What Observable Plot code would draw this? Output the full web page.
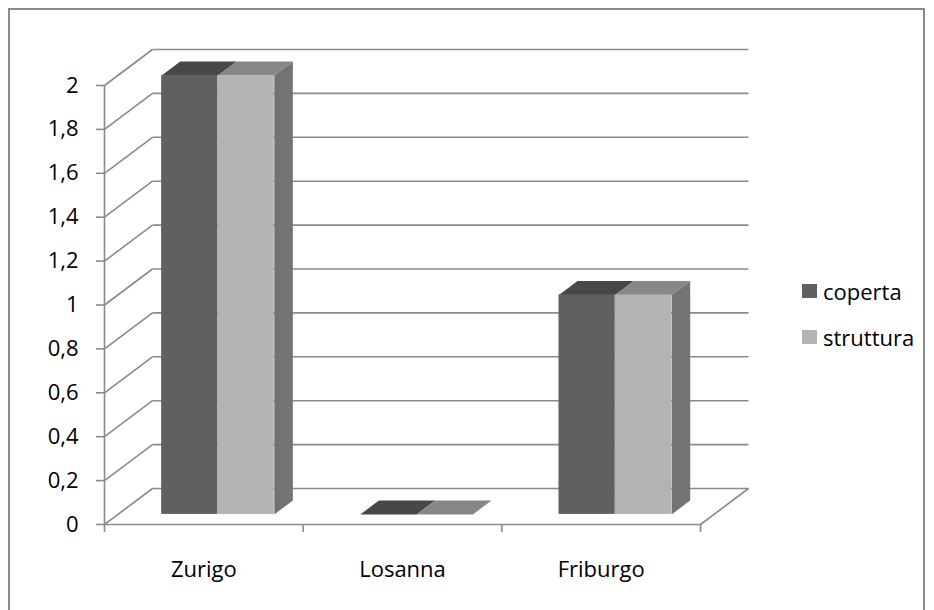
<!DOCTYPE html>
<html>
<head>
<meta charset="utf-8">
<script src="https://cdn.jsdelivr.net/npm/d3@7"></script>
<script src="https://cdn.jsdelivr.net/npm/@observablehq/plot@0.6"></script>
<style>
  html, body { margin: 0; padding: 0; background: #fff; }
  #wrap { position: relative; width: 934px; height: 610px; overflow: hidden; font-family: "Open Sans", sans-serif; }
  #frame { position: absolute; left: 8px; top: 8px; width: 917px; height: 620px; border: 2px solid #8a8a8a; box-sizing: border-box; pointer-events: none; }
  #legend { position: absolute; left: 802px; top: 276px; font-size: 22px; color: #000; }
  #legend .row { display: flex; align-items: center; height: 30px; margin-bottom: 16px; }
  #legend .sw { width: 15px; height: 14px; margin-right: 6px; }
  #chart { position: absolute; left: 0; top: 0; }
</style>
</head>
<body>
<div id="wrap">
  <div id="chart"></div>
  <div id="frame"></div>
  <div id="legend"></div>
</div>
<script>
// ---- data ----
const categories = ["Zurigo", "Losanna", "Friburgo"];
const seriesNames = ["coperta", "struttura"];
const coperta = [2, 0, 1];
const struttura = [2, 0, 1];
const yTicks = [0, 0.2, 0.4, 0.6, 0.8, 1, 1.2, 1.4, 1.6, 1.8, 2];
const yTickLabels = ["0", "0,2", "0,4", "0,6", "0,8", "1", "1,2", "1,4", "1,6", "1,8", "2"];

// ---- styles ----
const frontColors = ["#606060", "#b3b3b3"];
const topColors = ["#474747", "#878787"];
const sideColor = "#737373";
const gridColor = "#8a8a8a";

// ---- oblique projection (depth expressed in data units) ----
const N = categories.length;
const YMAX = 2;
const KX = 0.2416;   // full depth, x units
const KY = 0.164;    // full depth, value units
const Z0 = 0.28, Z1 = 0.667; // bar front/back depth
const BAR_OFF = 0.22, BAR_W = 0.2835;
const P = (x, y, z) => ({x: x + z * KX, y: y + z * KY});

const values = [coperta, struttura];
const fronts = [], tops = [[], []], sides = [];
categories.forEach((c, i) => {
  values.forEach((vals, j) => {
    const v = vals[i];
    const xa = i + BAR_OFF + j * BAR_W, xb = xa + BAR_W;
    const a = P(xa, 0, Z0), b = P(xb, v, Z0);
    fronts.push({x1: a.x, x2: b.x, y1: a.y, y2: b.y, s: j});
    const id = c + j;
    [P(xa, v, Z0), P(xb, v, Z0), P(xb, v, Z1), P(xa, v, Z1)].forEach(p => tops[j].push({...p, id}));
    if (j === values.length - 1 && v > 0) {
      [P(xb, 0, Z0), P(xb, v, Z0), P(xb, v, Z1), P(xb, 0, Z1)].forEach(p => sides.push({...p, id}));
    }
  });
});

// grid: diagonals on left wall/floor + horizontal lines on back wall
const gridLinks = [];
yTicks.forEach(t => {
  const f = P(0, t, 0), bk = P(0, t, 1), br = P(N, t, 1);
  gridLinks.push({x1: f.x, y1: f.y, x2: bk.x, y2: bk.y});
  gridLinks.push({x1: bk.x, y1: bk.y, x2: br.x, y2: br.y});
});
{ const f = P(N, 0, 0), bk = P(N, 0, 1); gridLinks.push({x1: f.x, y1: f.y, x2: bk.x, y2: bk.y}); }

const chart = Plot.plot({
  width: 934,
  height: 610,
  marginLeft: 104,
  marginRight: 186,
  marginTop: 49,
  marginBottom: 86,
  x: {domain: [0, N + KX], axis: null},
  y: {domain: [0, YMAX + KY], axis: null},
  style: {fontFamily: "Open Sans, sans-serif", fontSize: "22px", color: "#000", background: "transparent", overflow: "visible"},
  marks: [
    Plot.link(gridLinks, {x1: "x1", y1: "y1", x2: "x2", y2: "y2", stroke: gridColor, strokeWidth: 1.6}),
    Plot.ruleX([0], {y1: 0, y2: YMAX, stroke: gridColor, strokeWidth: 1.6}),
    Plot.ruleY([0], {x1: 0, x2: N, stroke: gridColor, strokeWidth: 1.6}),
    Plot.axisY({ticks: yTicks, tickSize: 8, tickPadding: 18, tickFormat: (d) => yTickLabels[yTicks.indexOf(d)], stroke: gridColor, strokeWidth: 1.6, fill: "#000", label: null, fontSize: 22}),
    Plot.axisX({ticks: d3.range(N + 1), tickSize: 8, tickFormat: () => "", stroke: gridColor, strokeWidth: 1.6, label: null}),
    Plot.axisX({ticks: categories.map((c, i) => i + 0.5), tickSize: 0, tickPadding: 37, tickFormat: (d) => categories[Math.floor(d)], fill: "#000", label: null, fontSize: 22}),
    Plot.line(sides, {x: "x", y: "y", z: "id", fill: sideColor, stroke: "none"}),
    Plot.line(tops[0], {x: "x", y: "y", z: "id", fill: topColors[0], stroke: "none"}),
    Plot.line(tops[1], {x: "x", y: "y", z: "id", fill: topColors[1], stroke: "none"}),
    Plot.rect(fronts.filter(d => d.s === 0), {x1: "x1", x2: "x2", y1: "y1", y2: "y2", fill: frontColors[0]}),
    Plot.rect(fronts.filter(d => d.s === 1), {x1: "x1", x2: "x2", y1: "y1", y2: "y2", fill: frontColors[1]})
  ]
});
document.getElementById("chart").appendChild(chart);

// legend
const legend = document.getElementById("legend");
seriesNames.forEach((name, j) => {
  const row = document.createElement("div");
  row.className = "row";
  const sw = document.createElement("div");
  sw.className = "sw";
  sw.style.background = frontColors[j];
  const label = document.createElement("span");
  label.textContent = name;
  row.appendChild(sw);
  row.appendChild(label);
  legend.appendChild(row);
});
</script>
</body>
</html>
